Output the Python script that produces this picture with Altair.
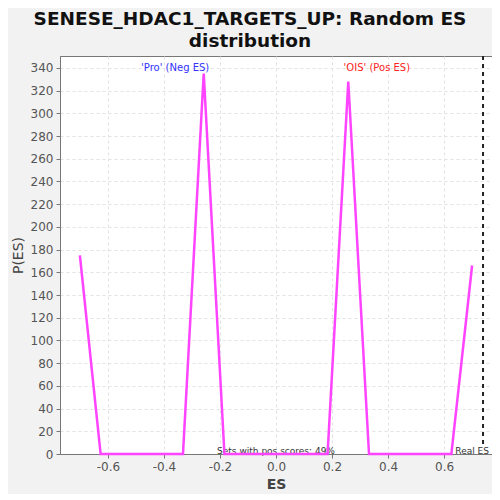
import altair as alt
import pandas as pd

es_x = [-0.700, -0.626, -0.553, -0.479, -0.405, -0.332, -0.258, -0.184, -0.111, -0.037,
        0.037, 0.111, 0.184, 0.258, 0.332, 0.405, 0.479, 0.553, 0.626, 0.700]
p_es = [175, 0, 0, 0, 0, 0, 335, 0, 0, 0, 0, 0, 0, 328, 0, 0, 0, 0, 0, 166]
x_ticks = [-0.6, -0.4, -0.2, 0.0, 0.2, 0.4, 0.6]
y_ticks = list(range(0, 341, 20))
real_es = 0.739

ann_text = ["'Pro' (Neg ES)", "'OIS' (Pos ES)"]
ann_x = [-0.36, 0.36]
ann_y = [340, 340]
ann_color = ["#3333ff", "#ff2222"]

note_text = ["Sets with pos scores: 49%", "Real ES"]
note_x = [0.0, 0.7]
note_y = [2.5, 2.5]

df = pd.DataFrame({"ES": es_x, "P": p_es})
ann = pd.DataFrame({"t": ann_text, "x": ann_x, "y": ann_y, "c": ann_color})
notes = pd.DataFrame({"t": note_text, "x": note_x, "y": note_y})

xs = alt.Scale(domain=[-0.771, 0.771], nice=False, zero=False)
ys = alt.Scale(domain=[0, 350.5], nice=False)

x_axis = alt.Axis(values=x_ticks, grid=True, gridDash=[3, 3],
                  labelExpr="datum.value < 0 ? '-' + format(-datum.value, '.1f') : format(datum.value, '.1f')",
                  gridColor="#e2e2e2", labelFontSize=12, labelColor="#555555",
                  titleFontSize=14, titleColor="#444444", titleFont="DejaVu Sans",
                  labelFont="DejaVu Sans", tickColor="#777777", domainColor="#777777",
                  titleFontWeight="bold", tickSize=4, labelPadding=3, titlePadding=5,
                  labelOverlap=False)
y_axis = alt.Axis(values=y_ticks, grid=True, gridDash=[3, 3], gridColor="#e2e2e2",
                  labelFontSize=12, labelColor="#555555", titleFontSize=14,
                  titleColor="#444444", titleFont="DejaVu Sans", labelFont="DejaVu Sans",
                  tickColor="#777777", domainColor="#777777", titleFontWeight="normal",
                  tickSize=4, labelPadding=3, titlePadding=5, labelOverlap=False)

notes_base = alt.Chart(notes).mark_text(
    fontSize=9, font="DejaVu Sans", baseline="middle", color="#333333").encode(
    x=alt.X("x:Q", scale=xs, title="ES", axis=x_axis),
    y=alt.Y("y:Q", scale=ys, title="P(ES)", axis=y_axis), text="t:N")
sets_note = notes_base.transform_filter(alt.datum.x < 0.5)
real_note = notes_base.transform_filter(alt.datum.x >= 0.5)

line = alt.Chart(df).mark_line(color="#ff44ff", strokeWidth=2.5).encode(
    x=alt.X("ES:Q", scale=xs, title="ES", axis=x_axis),
    y=alt.Y("P:Q", scale=ys, title="P(ES)", axis=y_axis),
)

real = alt.Chart(pd.DataFrame({"x": [real_es]})).mark_rule(
    color="#222222", strokeDash=[4, 4], strokeWidth=2).encode(
    x=alt.X("x:Q", scale=xs, title="ES", axis=x_axis),
    y=alt.value(0), y2=alt.value(390))

texts = alt.Chart(ann).mark_text(fontSize=10, font="DejaVu Sans", baseline="middle").encode(
    x=alt.X("x:Q", scale=xs, title="ES", axis=x_axis),
    y=alt.Y("y:Q", scale=ys, title="P(ES)", axis=y_axis),
    text="t:N", color=alt.Color("c:N", scale=None))

chart = alt.layer(sets_note, line, real, real_note, texts).properties(
    width=432, height=398,
    background="#f2f2f2",
    padding={"left": 52, "top": 48, "right": 0, "bottom": 40},
    autosize=alt.AutoSizeParams(type="none"),
    title=alt.TitleParams(["SENESE_HDAC1_TARGETS_UP: Random ES", "distribution"],
                          fontSize=18.5, font="DejaVu Sans", fontWeight="bold", color="#111111",
                          anchor="middle", dx=-26, offset=5, lineHeight=22),
).configure_view(stroke="#777777", fill="white")

chart.save("out.html", embed_options={"renderer": "svg", "actions": False})
